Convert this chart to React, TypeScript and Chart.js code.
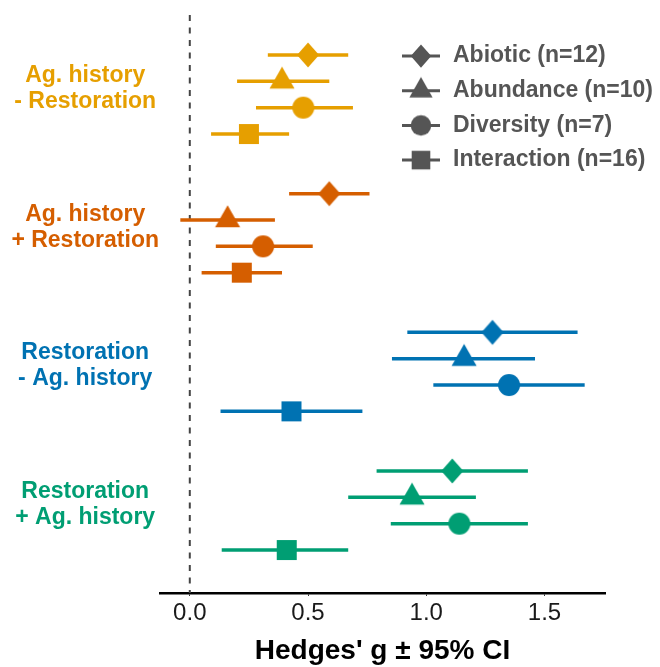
import React, { useEffect, useRef } from "react";
import { Chart, registerables } from "chart.js";

Chart.register(...registerables);

const FONT = "'Liberation Sans', Arial, Helvetica, sans-serif";

// ---- data ----
const groupLabels: string[][] = [
  ["Ag. history", "- Restoration"],
  ["Ag. history", "+ Restoration"],
  ["Restoration", "- Ag. history"],
  ["Restoration", "+ Ag. history"],
];
const groupColors = ["#E69F00", "#D55E00", "#0072B2", "#009E73"];

const responseTypes = ["Abiotic", "Abundance", "Diversity", "Interaction"];
const sampleSizes = [12, 10, 7, 16];
const shapes = ["diamond", "triangle", "circle", "square"];

// values per group (in groupLabels order)
const abioticMean = [0.5, 0.59, 1.28, 1.11];
const abioticLow = [0.33, 0.42, 0.92, 0.79];
const abioticHigh = [0.67, 0.76, 1.64, 1.43];

const abundanceMean = [0.39, 0.16, 1.16, 0.94];
const abundanceLow = [0.2, -0.04, 0.855, 0.67];
const abundanceHigh = [0.59, 0.36, 1.46, 1.21];

const diversityMean = [0.48, 0.31, 1.35, 1.14];
const diversityLow = [0.28, 0.11, 1.03, 0.85];
const diversityHigh = [0.69, 0.52, 1.67, 1.43];

const interactionMean = [0.25, 0.22, 0.43, 0.41];
const interactionLow = [0.09, 0.05, 0.13, 0.135];
const interactionHigh = [0.42, 0.39, 0.73, 0.67];

const xTicks = [0, 0.5, 1, 1.5];

const means = [abioticMean, abundanceMean, diversityMean, interactionMean];
const lows = [abioticLow, abundanceLow, diversityLow, interactionLow];
const highs = [abioticHigh, abundanceHigh, diversityHigh, interactionHigh];

const dodge = 0.19;
const rowPos = (g: number, k: number) => g + (k - 1.5) * dodge;

function makeShape(shape: string, color: string, s = 1): HTMLCanvasElement {
  const c = document.createElement("canvas");
  let w = 0, h = 0;
  if (shape === "diamond") { w = 22 * s; h = 25 * s; }
  else if (shape === "triangle") { w = 25 * s; h = 22 * s; }
  else if (shape === "circle") { w = 22 * s; h = 22 * s; }
  else { w = 20 * s; h = 20 * s; }
  let W = Math.ceil(w) + 2;
  let H = Math.ceil(h) + 2;
  if (shape === "triangle") H = Math.ceil((4 / 3) * h) + 2;
  if (W % 2) W += 1;
  if (H % 2) H += 1;
  c.width = W;
  c.height = H;
  const ctx = c.getContext("2d")!;
  ctx.fillStyle = color;
  const cx = W / 2, cy = H / 2;
  ctx.beginPath();
  if (shape === "diamond") {
    ctx.moveTo(cx, cy - h / 2);
    ctx.lineTo(cx + w / 2, cy);
    ctx.lineTo(cx, cy + h / 2);
    ctx.lineTo(cx - w / 2, cy);
  } else if (shape === "triangle") {
    const apex = cy - (2 / 3) * h;
    ctx.moveTo(cx, apex);
    ctx.lineTo(cx + w / 2, apex + h);
    ctx.lineTo(cx - w / 2, apex + h);
  } else if (shape === "circle") {
    ctx.arc(cx, cy, w / 2, 0, Math.PI * 2);
  } else {
    ctx.rect(cx - w / 2, cy - h / 2, w, h);
  }
  ctx.closePath();
  ctx.fill();
  return c;
}

const LEGEND_GREY = "#555555";

const legendPlugin = {
  id: "customLegend",
  afterDraw(chart: any) {
    const ctx = chart.ctx as CanvasRenderingContext2D;
    ctx.save();
    responseTypes.forEach((t, i) => {
      const y = 56 + i * 34.7;
      ctx.strokeStyle = LEGEND_GREY;
      ctx.lineWidth = 3;
      ctx.beginPath();
      ctx.moveTo(402, y);
      ctx.lineTo(440, y);
      ctx.stroke();
      const img = makeShape(shapes[i], LEGEND_GREY, 0.93);
      ctx.drawImage(img, 421 - img.width / 2, y - img.height / 2);
      ctx.fillStyle = LEGEND_GREY;
      ctx.font = `bold 23px ${FONT}`;
      ctx.textBaseline = "middle";
      ctx.textAlign = "left";
      ctx.fillText(`${t} (n=${sampleSizes[i]})`, 453, y);
    });
    ctx.restore();
  },
};

export default function App() {
  const ref = useRef<HTMLCanvasElement>(null);
  useEffect(() => {
    if (!ref.current) return;
    const yMin = -0.595;
    const yMax = 3.595;

    const markerSets = responseTypes.map((t, k) => ({
      type: "scatter" as const,
      label: t,
      order: 0,
      data: groupLabels.map((_, g) => ({ x: means[k][g], y: rowPos(g, k) })),
      pointStyle: groupColors.map((c) => makeShape(shapes[k], c)),
      pointRadius: 11,
      showLine: false,
    }));

    const whiskerSets: any[] = [];
    responseTypes.forEach((t, k) => {
      groupLabels.forEach((_, g) => {
        whiskerSets.push({
          type: "scatter",
          label: `${t}-ci-${g}`,
          order: 1,
          data: [
            { x: lows[k][g], y: rowPos(g, k) },
            { x: highs[k][g], y: rowPos(g, k) },
          ],
          showLine: true,
          borderColor: groupColors[g],
          borderWidth: 3.5,
          borderCapStyle: "butt",
          pointRadius: 0,
        });
      });
    });

    const zeroLine = {
      type: "scatter" as const,
      label: "zero",
      order: 2,
      data: [
        { x: 0, y: yMin },
        { x: 0, y: yMax },
      ],
      showLine: true,
      borderColor: "#444444",
      borderWidth: 2,
      borderDash: [6, 6.5],
      borderDashOffset: -3,
      pointRadius: 0,
    };

    const chart = new Chart(ref.current, {
      type: "scatter",
      data: { datasets: [...markerSets, ...whiskerSets, zeroLine] as any },
      options: {
        animation: false,
        responsive: false,
        maintainAspectRatio: false,
        devicePixelRatio: 1,
        events: [],
        layout: { padding: { top: 12, right: 55, bottom: 0, left: 0 } },
        plugins: {
          legend: { display: false },
          tooltip: { enabled: false },
        },
        scales: {
          x: {
            type: "linear",
            min: -0.126,
            max: 1.756,
            afterFit: (s: any) => {
              s.height = 74;
              s.paddingLeft = 0;
              s.paddingRight = 0;
            },
            afterBuildTicks: (s: any) => {
              s.ticks = xTicks.map((v) => ({ value: v }));
            },
            border: { display: true, color: "#000000", width: 2.5 },
            grid: {
              display: true,
              drawOnChartArea: false,
              drawTicks: true,
              tickLength: 3,
              color: "#333333",
              lineWidth: 1,
            },
            ticks: {
              callback: (v: any) => Number(v).toFixed(1),
              font: { family: FONT, size: 24 },
              color: "#1a1a1a",
              padding: 3,
              autoSkip: false,
              maxRotation: 0,
            },
            title: {
              display: true,
              text: "Hedges' g ± 95% CI",
              font: { family: FONT, size: 28, weight: "bold", lineHeight: 1.1 },
              color: "#000000",
              padding: 0,
            },
          },
          y: {
            type: "linear",
            min: yMin,
            max: yMax,
            reverse: true,
            afterFit: (s: any) => {
              s.width = 160;
              s.paddingTop = 0;
              s.paddingBottom = 0;
            },
            afterBuildTicks: (s: any) => {
              s.ticks = groupLabels.map((_, i) => ({ value: i }));
            },
            border: { display: false },
            grid: { display: false, drawTicks: false },
            ticks: {
              callback: (v: any) => groupLabels[Math.round(Number(v))],
              color: (c: any) => groupColors[c.index] || "#000",
              font: { family: FONT, size: 23, weight: "bold", lineHeight: 1.13 },
              crossAlign: "center",
              padding: 1,
              labelOffset: -6,
              autoSkip: false,
            },
          },
        },
      } as any,
      plugins: [legendPlugin],
    });
    return () => chart.destroy();
  }, []);

  return (
    <div
      style={{
        position: "fixed",
        left: 0,
        top: 0,
        width: 660,
        height: 667,
        background: "#ffffff",
      }}
    >
      <canvas
        ref={ref}
        width={660}
        height={667}
        style={{ display: "block", width: 660, height: 667 }}
      />
    </div>
  );
}
